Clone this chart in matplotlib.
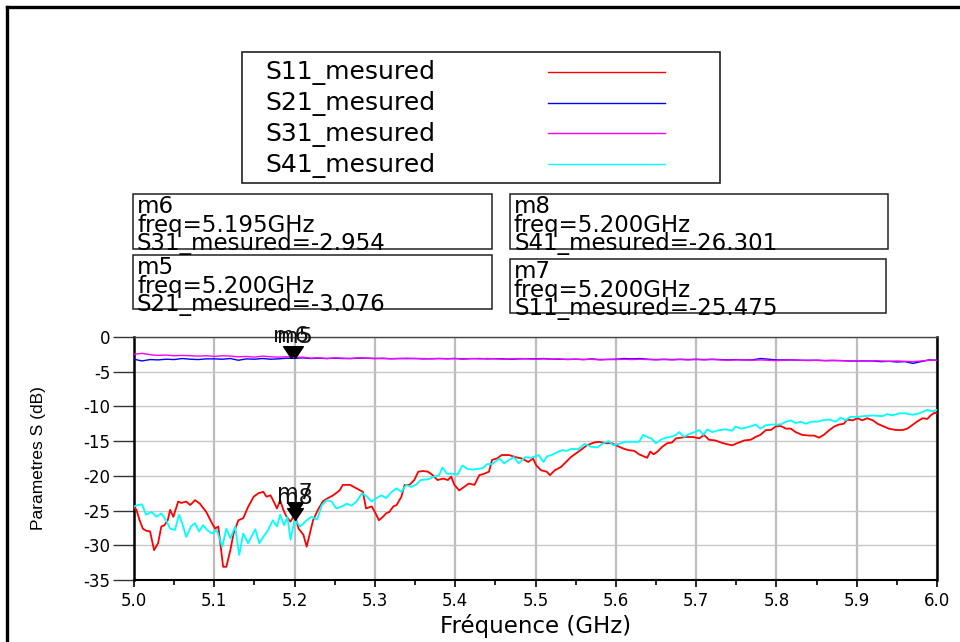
import numpy as np
import matplotlib
matplotlib.use("Agg")
import matplotlib.pyplot as plt
from matplotlib.lines import Line2D
from matplotlib.patches import Rectangle

plt.rcParams['font.family'] = ['DejaVu Sans']
plt.rcParams['axes.unicode_minus'] = False

# ---------------- data ----------------
freq_grid = [round(5.0 + 0.01 * i, 2) for i in range(101)]

s21_db = [-3.2, -3.45, -3.25, -3.3, -3.2, -3.25, -3.1, -3.2, -3.25, -3.15,
          -3.15, -3.2, -3.1, -3.35, -3.15, -3.2, -3.1, -3.2, -3.15, -3.05,
          -3.08, -3.0, -3.1, -3.05, -3.1, -3.05, -3.1, -3.1, -3.05, -3.05,
          -3.1, -3.1, -3.12, -3.1, -3.12, -3.1, -3.15, -3.12, -3.1, -3.12,
          -3.1, -3.15, -3.12, -3.1, -3.15, -3.12, -3.15, -3.2, -3.15, -3.12,
          -3.15, -3.1, -3.2, -3.2, -3.22, -3.2, -3.25, -3.15, -3.25, -3.22,
          -3.2, -3.1, -3.15, -3.1, -3.2, -3.25, -3.2, -3.25, -3.2, -3.25,
          -3.2, -3.25, -3.2, -3.25, -3.3, -3.25, -3.3, -3.3, -3.1, -3.2,
          -3.3, -3.3, -3.3, -3.35, -3.35, -3.35, -3.4, -3.4, -3.4, -3.45,
          -3.45, -3.45, -3.45, -3.55, -3.5, -3.6, -3.55, -3.8, -3.55, -3.3, -3.35]

s31_db = [-2.5, -2.35, -2.55, -2.65, -2.6, -2.7, -2.65, -2.7, -2.75, -2.7,
          -2.8, -2.7, -2.75, -2.85, -2.8, -2.9, -2.75, -2.85, -2.9, -2.85,
          -2.95, -2.9, -3.05, -3.0, -3.1, -3.0, -3.05, -3.1, -3.0, -3.05,
          -3.1, -3.05, -3.15, -3.1, -3.05, -3.1, -3.1, -3.15, -3.1, -3.15,
          -3.1, -3.2, -3.1, -3.15, -3.1, -3.15, -3.2, -3.15, -3.1, -3.15,
          -3.2, -3.15, -3.2, -3.15, -3.25, -3.2, -3.25, -3.2, -3.3, -3.25,
          -3.25, -3.2, -3.25, -3.2, -3.25, -3.3, -3.25, -3.3, -3.25, -3.3,
          -3.25, -3.3, -3.25, -3.3, -3.35, -3.3, -3.3, -3.35, -3.3, -3.35,
          -3.4, -3.35, -3.3, -3.35, -3.4, -3.35, -3.4, -3.35, -3.4, -3.45,
          -3.4, -3.45, -3.4, -3.45, -3.5, -3.45, -3.5, -3.55, -3.45, -3.35, -3.35]

s11_freq = [5.000, 5.003, 5.007, 5.011, 5.015, 5.020, 5.025, 5.030, 5.034, 5.038,
            5.042, 5.045, 5.049, 5.055, 5.059, 5.065, 5.070, 5.076, 5.082, 5.090,
            5.097, 5.101, 5.105, 5.109, 5.111, 5.115, 5.120, 5.124, 5.130, 5.136,
            5.142, 5.149, 5.155, 5.161, 5.165, 5.170, 5.174, 5.178, 5.182, 5.186,
            5.190, 5.195, 5.200, 5.205, 5.211, 5.215, 5.219, 5.223, 5.229, 5.235,
            5.240, 5.248, 5.256, 5.260, 5.269, 5.277, 5.285, 5.289, 5.296, 5.300,
            5.305, 5.310, 5.314, 5.318, 5.323, 5.327, 5.333, 5.337, 5.343, 5.349,
            5.354, 5.360, 5.366, 5.372, 5.378, 5.385, 5.391, 5.395, 5.399, 5.405,
            5.411, 5.417, 5.424, 5.430, 5.436, 5.442, 5.446, 5.452, 5.458, 5.467,
            5.475, 5.483, 5.491, 5.497, 5.501, 5.507, 5.514, 5.518, 5.524, 5.532,
            5.538, 5.544, 5.550, 5.556, 5.564, 5.573, 5.579, 5.587, 5.595, 5.600,
            5.610, 5.616, 5.623, 5.629, 5.635, 5.639, 5.643, 5.647, 5.652, 5.658,
            5.664, 5.670, 5.675, 5.681, 5.687, 5.696, 5.704, 5.710, 5.716, 5.724,
            5.731, 5.737, 5.745, 5.751, 5.760, 5.768, 5.774, 5.780, 5.787, 5.793,
            5.799, 5.805, 5.812, 5.818, 5.824, 5.832, 5.841, 5.847, 5.853, 5.859,
            5.866, 5.872, 5.878, 5.884, 5.888, 5.895, 5.901, 5.907, 5.913, 5.920,
            5.926, 5.932, 5.940, 5.949, 5.957, 5.963, 5.969, 5.975, 5.982, 5.988,
            5.992, 5.997, 6.000]
s11_db = [-24.45, -24.9, -26.4, -27.6, -27.9, -28.0, -30.7, -29.7, -27.3, -27.1,
          -26.4, -24.9, -25.9, -23.7, -23.9, -23.7, -24.2, -23.5, -24.0, -25.2,
          -26.8, -27.6, -27.3, -31.2, -33.1, -33.1, -30.7, -28.3, -26.4, -26.1,
          -24.5, -23.0, -22.5, -22.3, -23.0, -22.8, -23.7, -24.7, -23.5, -24.9,
          -25.9, -26.6, -25.5, -27.6, -28.5, -30.2, -28.3, -26.4, -24.9, -23.7,
          -23.3, -22.8, -22.1, -21.3, -21.3, -21.8, -22.3, -24.7, -24.4, -25.2,
          -26.4, -25.9, -25.4, -25.2, -24.4, -24.2, -23.0, -21.3, -21.3, -20.6,
          -19.4, -19.3, -19.4, -19.9, -20.6, -20.4, -20.6, -20.1, -21.3, -22.1,
          -21.6, -21.1, -21.3, -19.9, -19.7, -19.4, -17.7, -17.5, -17.0, -17.0,
          -17.3, -17.5, -18.0, -17.5, -18.5, -19.2, -19.4, -19.9, -19.2, -18.7,
          -18.0, -17.3, -16.8, -16.3, -15.6, -15.2, -15.1, -15.3, -15.3, -15.6,
          -16.1, -16.3, -16.4, -16.9, -17.2, -17.4, -16.5, -16.9, -16.5, -15.8,
          -15.3, -15.2, -14.6, -14.5, -14.4, -14.4, -14.6, -14.1, -14.8, -14.9,
          -15.2, -15.4, -15.6, -15.3, -14.9, -14.8, -14.4, -14.1, -13.4, -13.4,
          -12.9, -12.8, -13.2, -13.2, -13.7, -14.1, -14.2, -14.2, -14.5, -14.1,
          -13.4, -12.9, -12.6, -12.5, -11.9, -12.0, -11.7, -12.0, -11.7, -12.0,
          -12.5, -12.8, -13.2, -13.4, -13.4, -13.2, -12.7, -12.2, -11.7, -11.8,
          -11.3, -10.9, -11.0]

s41_freq = [5.000, 5.005, 5.010, 5.015, 5.022, 5.028, 5.034, 5.040, 5.045, 5.051,
            5.056, 5.060, 5.065, 5.071, 5.076, 5.081, 5.086, 5.091, 5.097, 5.103,
            5.110, 5.115, 5.120, 5.126, 5.131, 5.136, 5.142, 5.151, 5.156, 5.161,
            5.167, 5.173, 5.178, 5.182, 5.187, 5.191, 5.195, 5.200, 5.207, 5.215,
            5.221, 5.228, 5.234, 5.240, 5.246, 5.252, 5.259, 5.265, 5.271, 5.277,
            5.284, 5.290, 5.296, 5.302, 5.308, 5.314, 5.321, 5.327, 5.333, 5.339,
            5.345, 5.351, 5.357, 5.366, 5.374, 5.380, 5.384, 5.390, 5.397, 5.403,
            5.409, 5.415, 5.422, 5.428, 5.434, 5.440, 5.446, 5.455, 5.461, 5.467,
            5.473, 5.479, 5.487, 5.495, 5.504, 5.510, 5.514, 5.520, 5.527, 5.533,
            5.539, 5.545, 5.553, 5.561, 5.569, 5.577, 5.583, 5.591, 5.597, 5.604,
            5.612, 5.620, 5.629, 5.634, 5.639, 5.644, 5.650, 5.656, 5.662, 5.668,
            5.675, 5.679, 5.685, 5.691, 5.698, 5.704, 5.709, 5.714, 5.720, 5.729,
            5.737, 5.745, 5.749, 5.756, 5.764, 5.770, 5.774, 5.780, 5.787, 5.795,
            5.805, 5.812, 5.818, 5.824, 5.830, 5.837, 5.843, 5.851, 5.857, 5.866,
            5.874, 5.880, 5.886, 5.892, 5.901, 5.909, 5.920, 5.932, 5.938, 5.944,
            5.953, 5.961, 5.969, 5.975, 5.982, 5.988, 5.994, 6.000]
s41_db = [-24.4, -24.2, -24.1, -25.6, -25.2, -25.9, -25.4, -26.4, -27.6, -27.8,
          -25.6, -26.8, -28.8, -27.3, -26.8, -28.0, -27.1, -27.8, -28.3, -27.8,
          -30.2, -27.6, -29.0, -27.3, -31.4, -28.3, -29.7, -27.7, -29.7, -28.8,
          -27.8, -26.4, -27.3, -25.6, -27.1, -25.9, -29.2, -26.3, -27.3, -26.4,
          -25.9, -26.3, -24.2, -23.5, -23.7, -24.7, -24.4, -24.0, -24.3, -23.7,
          -22.5, -23.0, -23.7, -23.2, -22.8, -23.2, -22.3, -21.8, -22.3, -21.3,
          -21.6, -21.3, -20.6, -20.5, -20.1, -19.9, -18.8, -19.7, -19.7, -19.8,
          -18.5, -19.0, -19.1, -19.0, -18.9, -18.3, -18.3, -17.5, -18.2, -17.7,
          -17.3, -18.2, -17.3, -17.4, -17.0, -18.0, -17.2, -17.0, -16.6, -16.3,
          -16.4, -16.1, -16.2, -15.4, -15.8, -15.9, -15.4, -15.0, -15.6, -15.4,
          -15.1, -15.1, -15.1, -14.1, -14.4, -14.6, -15.3, -14.8, -14.5, -14.4,
          -14.1, -13.7, -14.4, -14.0, -13.7, -13.4, -14.1, -13.3, -13.7, -13.4,
          -13.3, -13.5, -12.9, -13.2, -13.0, -12.8, -12.6, -13.2, -12.7, -12.6,
          -12.6, -12.2, -12.0, -12.4, -12.2, -12.5, -12.2, -12.2, -12.0, -11.9,
          -12.2, -11.6, -12.0, -11.5, -11.5, -11.4, -11.3, -11.4, -11.1, -11.3,
          -11.0, -11.0, -11.2, -11.1, -10.8, -10.5, -10.7, -10.5]

series_names = ['S11_mesured', 'S21_mesured', 'S31_mesured', 'S41_mesured']
series_colors = ['#ff0000', '#0000ff', '#ff00ff', '#00ffff']

x_ticks = [5.0, 5.1, 5.2, 5.3, 5.4, 5.5, 5.6, 5.7, 5.8, 5.9, 6.0]
y_ticks = [0, -5, -10, -15, -20, -25, -30, -35]

marker_names = ['m6', 'm5', 'm8', 'm7']
marker_freq = [5.195, 5.200, 5.200, 5.200]
marker_series = ['S31_mesured', 'S21_mesured', 'S41_mesured', 'S11_mesured']
marker_values = [-2.954, -3.076, -26.301, -25.475]

# ---------------- figure ----------------
W, H = 960, 642
fig = plt.figure(figsize=(W / 100, H / 100), dpi=100)
fig.patch.set_facecolor('white')


def fx(px):
    return px / W


def fy(py):
    return 1 - py / H


ax = fig.add_axes([fx(134), fy(580), fx(937) - fx(134), fy(337) - fy(580)])

xs = {
    'S11_mesured': (s11_freq, s11_db),
    'S21_mesured': (freq_grid, s21_db),
    'S31_mesured': (freq_grid, s31_db),
    'S41_mesured': (s41_freq, s41_db),
}
widths = [1.3, 1.0, 1.0, 1.3]
for name, col, lw in zip(series_names, series_colors, widths):
    f, v = xs[name]
    ax.plot(f, v, color=col, lw=lw, zorder=3)

ax.set_xlim(5.0, 6.0)
ax.set_ylim(-35, 0)
ax.set_xticks(x_ticks)
ax.set_xticklabels([f"{t:.1f}" for t in x_ticks])
ax.set_xticks([t + 0.05 for t in x_ticks[:-1]], minor=True)
ax.set_yticks(y_ticks)
ax.set_yticklabels([str(t) for t in y_ticks])

ax.tick_params(axis='x', which='major', direction='out', length=5, width=1.2,
               pad=4.0, labelsize=12)
ax.tick_params(axis='x', which='minor', direction='out', length=3.5, width=1.2)
ax.tick_params(axis='y', which='major', direction='out', length=15, width=1.0,
               pad=2, labelsize=12, color='#333333')

ax.grid(True, axis='x', which='major', color='#bdbdbd', lw=1.6, zorder=0)
ax.grid(True, axis='y', which='major', color='#c8c8c8', lw=1.0, zorder=0)
ax.set_axisbelow(True)

for side, lw, c in [('left', 1.8, 'black'), ('bottom', 1.5, 'black'),
                    ('right', 1.8, 'black'), ('top', 1.0, '#444444')]:
    ax.spines[side].set_linewidth(lw)
    ax.spines[side].set_color(c)

ax.set_xlabel('Fréquence (GHz)', fontsize=16.5)
ax.xaxis.set_label_coords(0.5, (580 - 614) / 243)
ax.set_ylabel('Parametres S (dB)', fontsize=12.5, family=['Liberation Sans'])
ax.yaxis.set_label_coords((46 - 134) / 803, 0.5)

# markers (triangle with tip at the data point)
tri = [(0, 0), (-1, 1.5), (1, 1.5), (0, 0)]
for name, f, v in zip(marker_names, marker_freq, marker_values):
    ax.plot([f], [v], marker=tri, ms=17, color='black', ls='none', zorder=5,
            clip_on=False)
    ax.annotate(name, (f, v), xytext=(0, 8.0), textcoords='offset points',
                ha='center', va='bottom', fontsize=16, color='#111111',
                zorder=6, annotation_clip=False)

# ---------------- legend box ----------------
fig.add_artist(Rectangle((fx(242), fy(183)), fx(720) - fx(242), fy(52) - fy(183),
                         transform=fig.transFigure, fill=False, ec='#222222', lw=1.2))
leg_base = [79, 110, 141, 172]
leg_line = [72, 103, 133, 164]
for name, col, yb, yl in zip(series_names, series_colors, leg_base, leg_line):
    fig.text(fx(265), fy(yb), name, fontsize=18, va='baseline', ha='left')
    fig.add_artist(Line2D([fx(548), fx(665)], [fy(yl), fy(yl)], color=col, lw=1.0,
                          transform=fig.transFigure))

# ---------------- marker readout boxes ----------------
boxes = [(133, 194, 492, 249), (133, 255, 492, 309),
         (510, 194, 888, 249), (510, 259, 886, 313)]
for (x0, y0, x1, y1), name, f, s, v in zip(boxes, marker_names, marker_freq,
                                           marker_series, marker_values):
    fig.add_artist(Rectangle((fx(x0), fy(y1)), fx(x1) - fx(x0), fy(y0) - fy(y1),
                             transform=fig.transFigure, fill=False,
                             ec='#222222', lw=1.1))
    block = "\n".join([name, f"freq={f:.3f}GHz", f"{s}={v:.3f}"])
    fig.text(fx(x0 + 4), fy(y0 + 1), block, fontsize=16.5, va='top', ha='left',
             linespacing=0.76)

# ---------------- outer frame (partially visible) ----------------
fig.add_artist(Line2D([fx(7), fx(7)], [0, fy(7)], color='black', lw=2.4,
                      transform=fig.transFigure))
fig.add_artist(Line2D([fx(7), 1], [fy(7), fy(7)], color='black', lw=2.4,
                      transform=fig.transFigure))

fig.savefig('out.png', dpi=100)
